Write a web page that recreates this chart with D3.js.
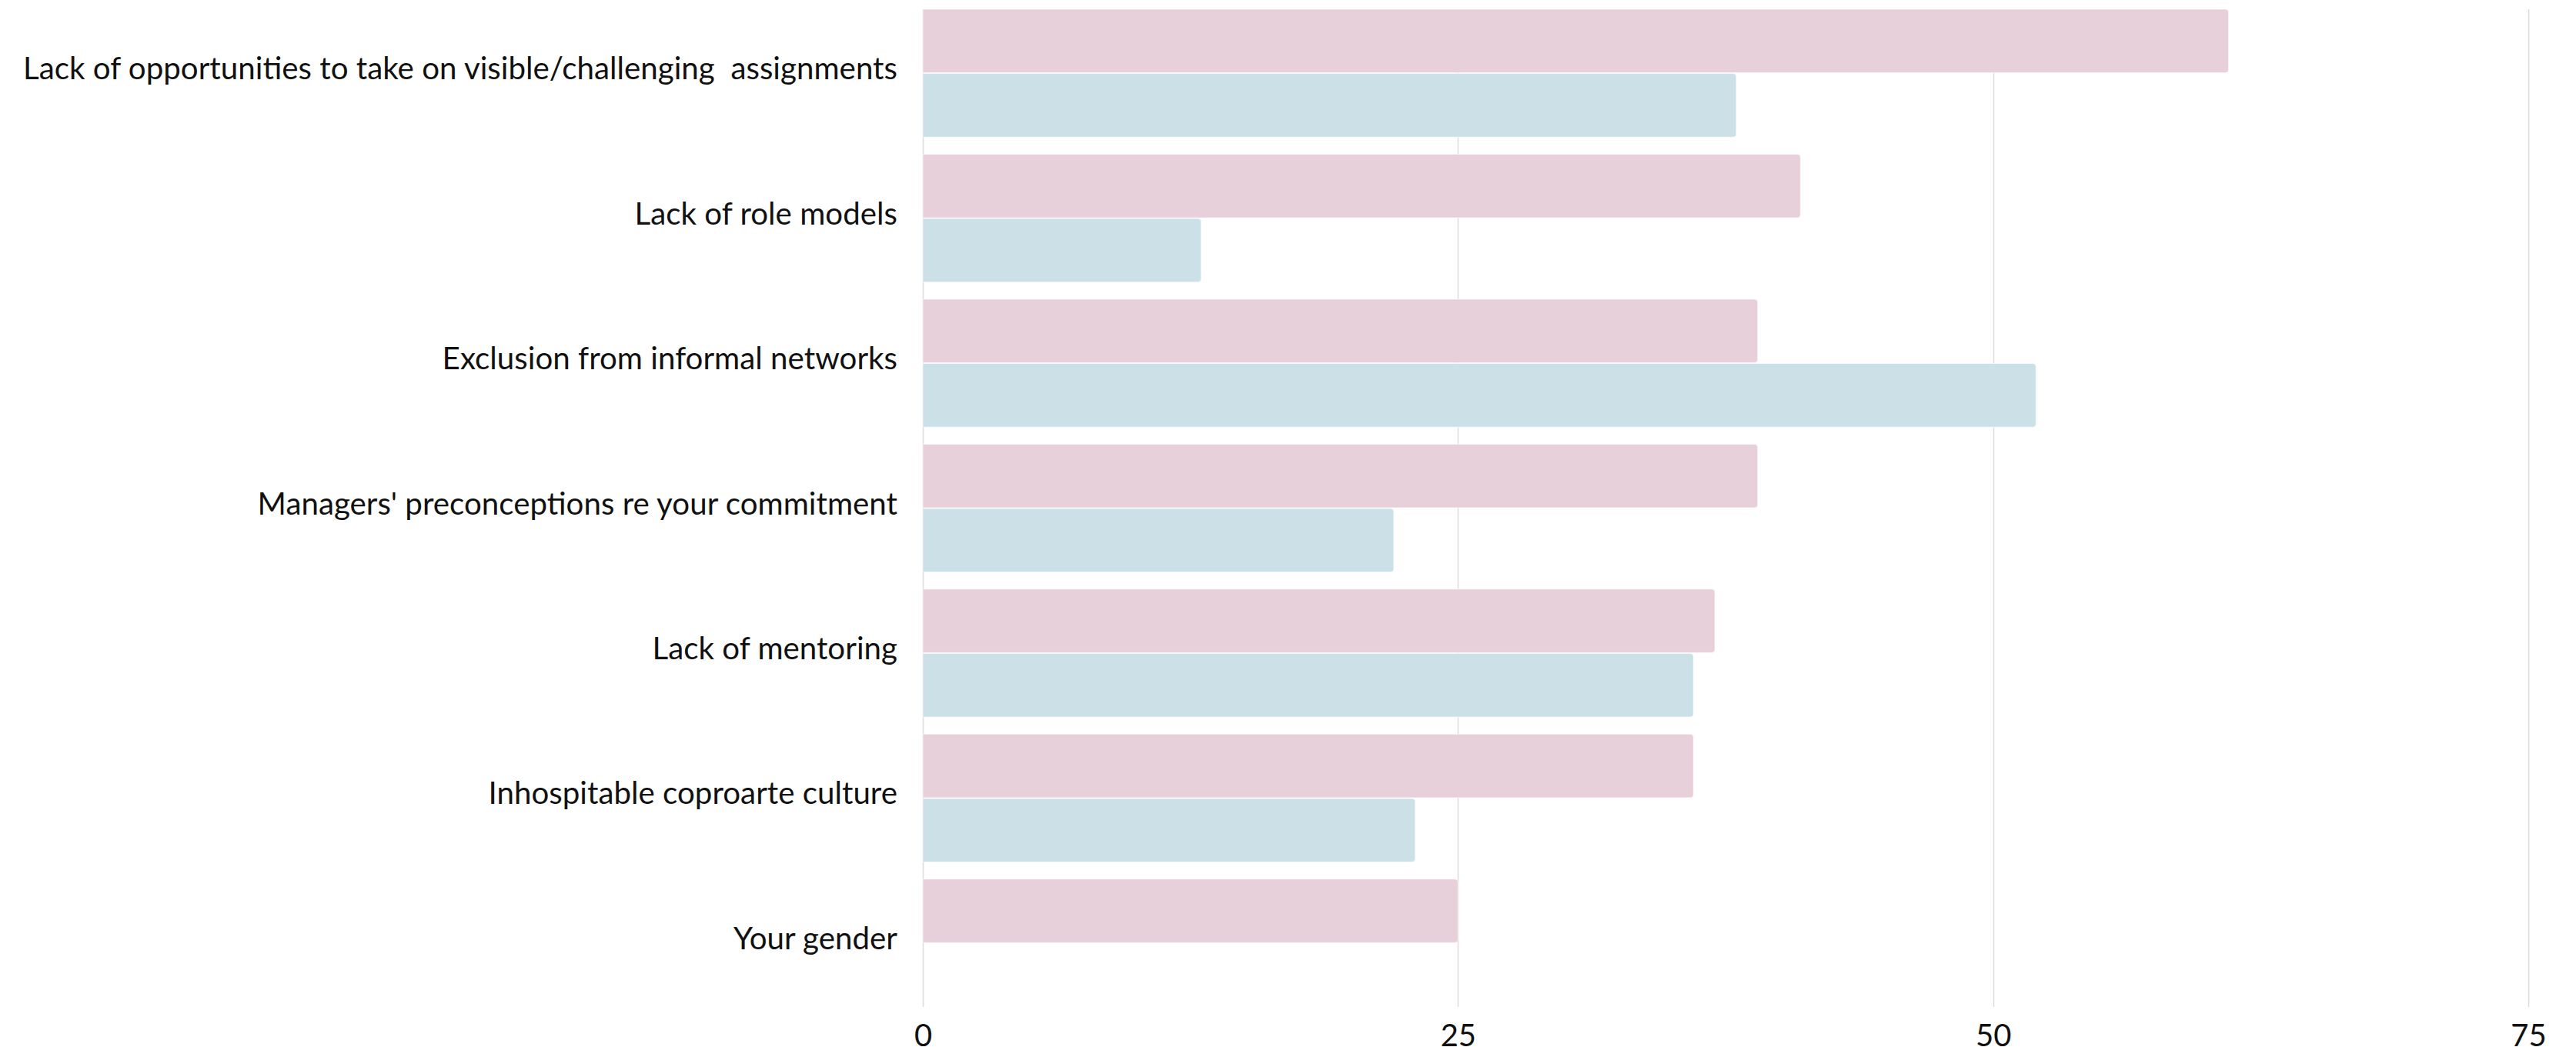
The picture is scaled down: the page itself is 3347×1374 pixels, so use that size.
<!DOCTYPE html>
<html>
<head>
<meta charset="utf-8">
<script src="https://cdn.jsdelivr.net/npm/d3@7"></script>
<style>
  html, body { margin: 0; padding: 0; background: #ffffff; }
  svg { display: block; }
  text { font-family: "Lato", "Open Sans", sans-serif; fill: #111; }
</style>
</head>
<body>
<svg id="chart" width="3347" height="1374"></svg>
<script>
// Barriers to advancement, two respondent groups (percent)
const categories = [
  "Lack of opportunities to take on visible/challenging\u00a0 assignments",
  "Lack of role models",
  "Exclusion from informal networks",
  "Managers' preconceptions re your commitment",
  "Lack of mentoring",
  "Inhospitable coproarte culture",
  "Your gender"
];
const seriesNames = ["Women", "Men"];
const womenValues = [61, 41, 39, 39, 37, 36, 25];
const menValues   = [38, 13, 52, 22, 36, 23, 0];
const tickValues  = [0, 25, 50, 75];
const seriesColors = ["#e8d0db", "#cce0e7"];

const W = 3347, H = 1374;
const margin = { top: 12, right: 62, bottom: 65, left: 1199 };
const innerW = W - margin.left - margin.right;
const innerH = H - margin.top - margin.bottom;

const svg = d3.select("#chart");
const g = svg.append("g").attr("transform", `translate(${margin.left},${margin.top})`);

const x = d3.scaleLinear().domain([0, 75]).range([0, innerW]);
const y0 = d3.scaleBand().domain(categories).range([0, innerH]).paddingInner(0.118).paddingOuter(0);
const y1 = d3.scaleBand().domain(seriesNames).range([0, y0.bandwidth()]).paddingInner(0.012);

// vertical grid lines
g.append("g")
  .selectAll("line")
  .data(tickValues)
  .join("line")
  .attr("x1", d => Math.round(x(d)) + 0.5)
  .attr("x2", d => Math.round(x(d)) + 0.5)
  .attr("y1", 0)
  .attr("y2", innerH)
  .attr("stroke", "#dcdcdc")
  .attr("stroke-width", 1.5);

// bars
const rows = categories.map((c, i) => ({ cat: c, vals: [womenValues[i], menValues[i]] }));
const group = g.append("g")
  .selectAll("g")
  .data(rows)
  .join("g")
  .attr("transform", d => `translate(0,${y0(d.cat)})`);

group.selectAll("path")
  .data(d => d.vals.map((v, j) => ({ v, s: seriesNames[j], j })).filter(e => e.v > 0))
  .join("path")
  .attr("d", e => {
    const w = x(e.v) - x(0), h = y1.bandwidth(), top = y1(e.s), r = 4;
    return `M0,${top}H${w - r}Q${w},${top} ${w},${top + r}V${top + h - r}Q${w},${top + h} ${w - r},${top + h}H0Z`;
  })
  .attr("fill", e => seriesColors[e.j])
  .attr("stroke", "#ffffff")
  .attr("stroke-opacity", 0.6)
  .attr("stroke-width", 1);

// category labels
g.append("g")
  .selectAll("text")
  .data(categories)
  .join("text")
  .attr("x", -33)
  .attr("y", d => y0(d) + y0.bandwidth() / 2)
  .attr("dy", "0.2em")
  .attr("text-anchor", "end")
  .style("font-size", "40.3px")
  .style("white-space", "pre")
  .text(d => d);

// x axis labels
const xAxis = d3.axisBottom(x).tickValues(tickValues).tickSize(0).tickPadding(23);
const ax = g.append("g").attr("transform", `translate(0,${innerH})`).call(xAxis);
ax.select(".domain").remove();
ax.selectAll("text")
  .style("font-size", "40px")
  .style("font-family", "Lato, sans-serif")
  .attr("fill", "#111");
</script>
</body>
</html>
